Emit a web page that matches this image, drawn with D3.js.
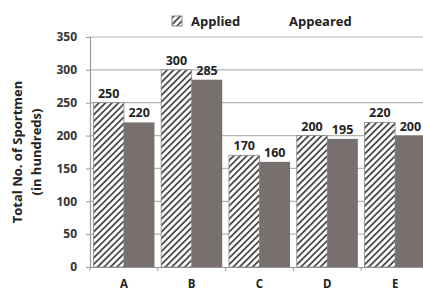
<!DOCTYPE html>
<html><head><meta charset="utf-8">
<script src="https://cdn.jsdelivr.net/npm/d3@7"></script>
<style>body{margin:0;background:#fff}svg{display:block}text{font-family:"Open Sans","Noto Sans",sans-serif;font-weight:bold}</style>
</head><body><div id="c"></div>
<script>
const categories = ["A","B","C","D","E"];
const applied = [250,300,170,200,220];
const appeared = [220,285,160,195,200];
const seriesNames = ["Applied","Appeared"];
const yTicks = [0,50,100,150,200,250,300,350];

(function(){
const W=423,H=291;
const svg=d3.select("#c").append("svg").attr("width",W).attr("height",H);
const defs=svg.append("defs");
const pat=defs.append("pattern").attr("id","hatch").attr("patternUnits","userSpaceOnUse")
  .attr("width",4.6).attr("height",4.6).attr("patternTransform","rotate(45)");
pat.append("rect").attr("width",4.6).attr("height",4.6).attr("fill","#fff");
pat.append("line").attr("x1",0.9).attr("y1",0).attr("x2",0.9).attr("y2",4.6).attr("stroke","#4a4a4a").attr("stroke-width",1.8);

const mL=90,mR=429,mT=37,mB=267;
const x=d3.scaleBand().domain(categories).range([mL,mR]).paddingInner(0).paddingOuter(0);
const y=d3.scaleLinear().domain([0,350]).range([mB,mT]);
const inner=d3.scaleBand().domain(seriesNames).range([0,x.bandwidth()]).paddingInner(0).paddingOuter(0.11);

svg.append("g").selectAll("line").data(yTicks.filter(d=>d>0)).join("line")
  .attr("x1",mL).attr("x2",W).attr("y1",d=>y(d)).attr("y2",d=>y(d))
  .attr("stroke","#b4b4b4").attr("stroke-width",1.2);

const ya=svg.append("g").attr("transform",`translate(${mL},0)`)
  .call(d3.axisLeft(y).tickValues(yTicks).tickSize(4).tickPadding(9));
ya.select(".domain").attr("stroke","#999").attr("stroke-width",1.2);
ya.selectAll(".tick line").attr("stroke","#999");
ya.selectAll("text").attr("font-size",12).attr("fill","#333").style("font-family",'"Open Sans",sans-serif').style("font-weight","bold");

const xa=svg.append("g").attr("transform",`translate(0,${mB})`)
  .call(d3.axisBottom(x).tickSize(0).tickPadding(13));
xa.select(".domain").attr("stroke","#999").attr("stroke-width",1.2);
xa.selectAll("text").attr("font-size",11.5).attr("fill","#222").style("font-family",'"Open Sans",sans-serif').style("font-weight","bold");
svg.append("g").selectAll("line").data(categories).join("line")
  .attr("x1",d=>x(d)).attr("x2",d=>x(d)).attr("y1",mB).attr("y2",mB+4)
  .attr("stroke","#999");

const data=categories.map((c,i)=>({c,vals:[applied[i],appeared[i]]}));
const g=svg.append("g").selectAll("g").data(data).join("g").attr("transform",d=>`translate(${x(d.c)},0)`);
g.selectAll("rect").data(d=>d.vals.map((v,j)=>({v,s:seriesNames[j]}))).join("rect")
  .attr("x",d=>inner(d.s)).attr("width",inner.bandwidth())
  .attr("y",d=>y(d.v)).attr("height",d=>mB-y(d.v))
  .attr("fill",d=>d.s==="Applied"?"url(#hatch)":"#786f6f")
  .attr("stroke",d=>d.s==="Applied"?"#888":"none").attr("stroke-width",0.8);
g.selectAll("text").data(d=>d.vals.map((v,j)=>({v,s:seriesNames[j]}))).join("text")
  .attr("x",d=>inner(d.s)+inner.bandwidth()/2).attr("y",d=>y(d.v)-5)
  .attr("text-anchor","middle").attr("font-size",12.5).attr("fill","#222").text(d=>d.v);

svg.append("rect").attr("x",172).attr("y",16).attr("width",10).attr("height",10).attr("fill","url(#hatch)").attr("stroke","#888");
svg.append("text").attr("x",191).attr("y",26).attr("font-size",13).attr("fill","#222").text(seriesNames[0]);
svg.append("text").attr("x",289).attr("y",26).attr("font-size",13).attr("fill","#222").text(seriesNames[1]);

const yt=svg.append("text").attr("transform",`translate(22,152) rotate(-90)`).attr("text-anchor","middle").attr("font-size",13).attr("fill","#222");
yt.append("tspan").attr("x",0).attr("dy",0).text("Total No. of Sportmen");
yt.append("tspan").attr("x",0).attr("dy",19).text("(in hundreds)");
})();
</script></body></html>
